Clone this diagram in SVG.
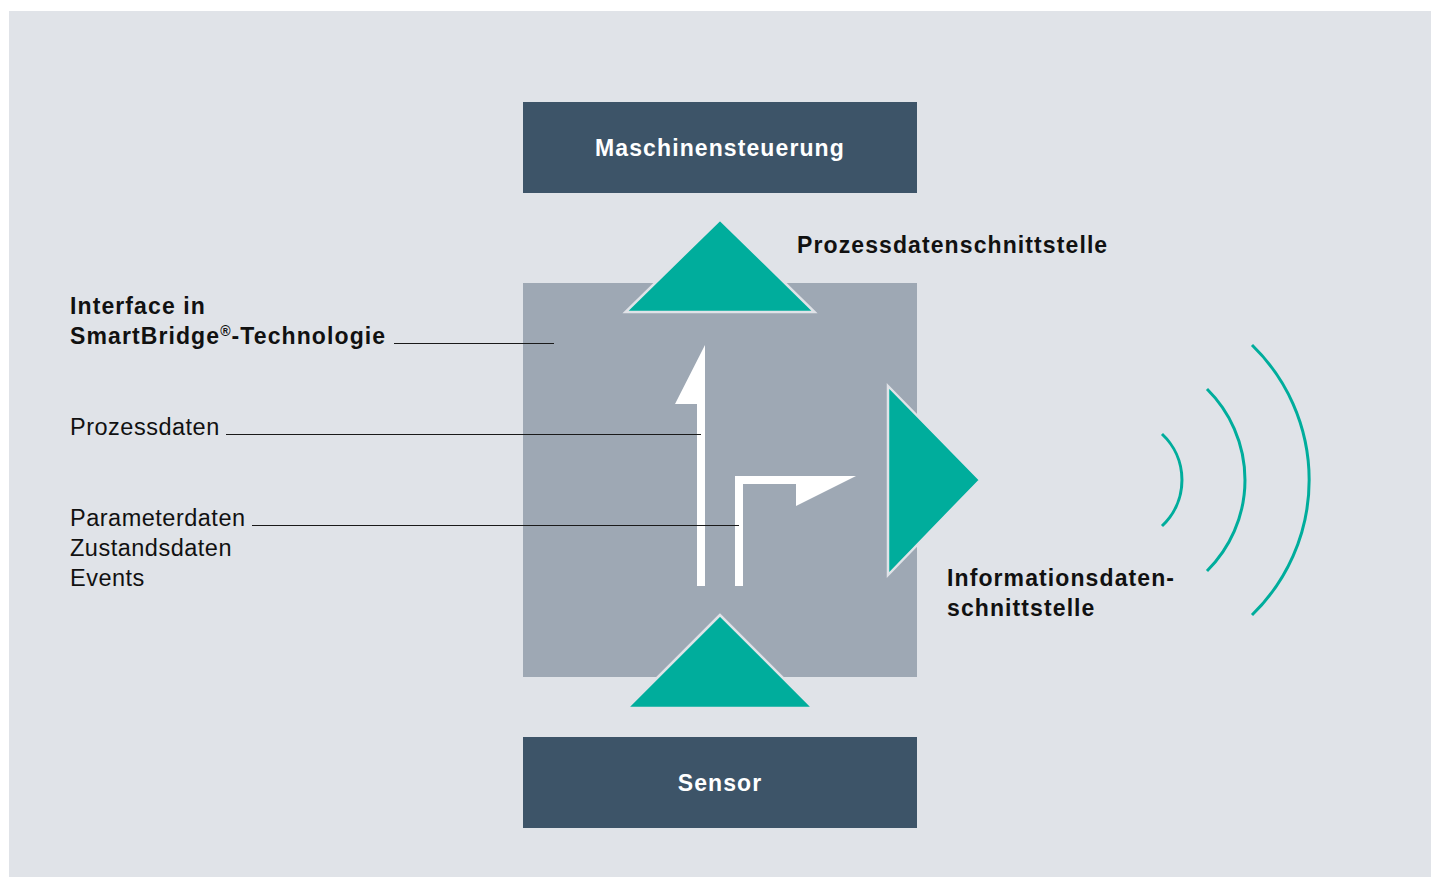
<svg xmlns="http://www.w3.org/2000/svg" width="1436" height="877" viewBox="0 0 1436 877">
  <style>
    .box { fill: #3d5468; }
    .core { fill: #9ea8b4; }
    .tri { fill: #00ad9c; stroke: #e0e3e8; stroke-width: 2.5; stroke-linejoin: miter; }
    .flow { fill: #ffffff; }
    .lead { stroke: #1a1a1a; stroke-width: 1.2; fill: none; }
    .wave { stroke: #00ad9c; stroke-width: 3; fill: none; }
    .t { font-family: "Liberation Sans", Arial, sans-serif; }
    .b { font-weight: bold; font-size: 23px; letter-spacing: 1.1px; }
    .r { font-size: 23.5px; letter-spacing: 0.5px; }
    .w { fill: #ffffff; }
    .k { fill: #111111; }
  </style>

  <rect x="0" y="0" width="1436" height="877" fill="#ffffff"/>
  <rect x="9" y="11" width="1422" height="866" fill="#e0e3e8"/>

  <!-- device core -->
  <g id="interface">
    <rect class="core" x="523" y="283" width="394" height="394"/>
  </g>

  <g id="maschinensteuerung">
    <rect class="box" x="523" y="102" width="394" height="91"/>
    <text class="t b w" x="720" y="156" text-anchor="middle">Maschinensteuerung</text>
  </g>

  <g id="sensor">
    <rect class="box" x="523" y="737" width="394" height="91"/>
    <text class="t b w" x="720" y="791" text-anchor="middle">Sensor</text>
  </g>

  <!-- interface triangles -->
  <g id="prozessdatenschnittstelle">
    <polygon class="tri" points="720,219.5 625.5,312 814.5,312"/>
    <text class="t b k" x="797" y="253">Prozessdatenschnittstelle</text>
  </g>

  <g id="sensor-eingang">
    <polygon class="tri" points="720,615 627,708 813,708"/>
  </g>

  <g id="informationsdatenschnittstelle">
    <polygon class="tri" points="888,386 980,480 888,575"/>
    <text class="t b k" x="947" y="586">Informationsdaten-</text>
    <text class="t b k" x="947" y="616">schnittstelle</text>
  </g>

  <!-- wireless waves -->
  <g id="funk">
    <path class="wave" d="M1162,434 A63,63 0 0 1 1162,526"/>
    <path class="wave" d="M1207,389 A128,128 0 0 1 1207,571"/>
    <path class="wave" d="M1252,345 A188,188 0 0 1 1252,615"/>
  </g>

  <!-- data flow arrows inside the core -->
  <g id="datenfluss">
    <polygon class="flow" points="705,345 705,586 697,586 697,404 675,404"/>
    <polygon class="flow" points="735,586 735,476 856,476 796,506 796,484 743,484 743,586"/>
  </g>

  <!-- labels and leader lines -->
  <g id="connectors">
    <line class="lead" x1="394" y1="343.5" x2="554" y2="343.5"/>
    <line class="lead" x1="226" y1="434.5" x2="701" y2="434.5"/>
    <line class="lead" x1="252" y1="525.5" x2="739" y2="525.5"/>
  </g>

  <g id="label-interface">
    <text class="t b k" x="70" y="314">Interface in</text>
    <text class="t b k" x="70" y="344">SmartBridge<tspan font-size="14" dy="-8">®</tspan><tspan dy="8">-Technologie</tspan></text>
  </g>

  <g id="label-prozessdaten">
    <text class="t r k" x="70" y="435">Prozessdaten</text>
  </g>

  <g id="label-parameterdaten">
    <text class="t r k" x="70" y="526">Parameterdaten</text>
    <text class="t r k" x="70" y="556">Zustandsdaten</text>
    <text class="t r k" x="70" y="586">Events</text>
  </g>
</svg>
